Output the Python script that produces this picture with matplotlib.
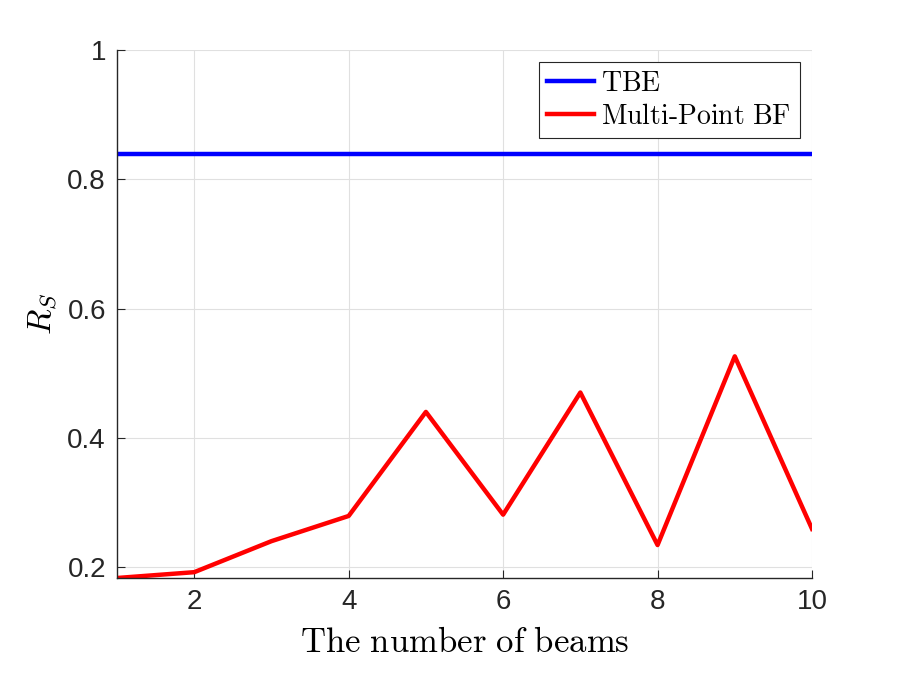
import matplotlib.pyplot as plt
from matplotlib.ticker import FuncFormatter

# data
beams = [1, 2, 3, 4, 5, 6, 7, 8, 9, 10]
tbe = [0.839] * len(beams)
multi_point_bf = [0.183, 0.192, 0.240, 0.279, 0.440, 0.281, 0.470, 0.234, 0.526, 0.259]

plt.rcParams['mathtext.fontset'] = 'cm'
plt.rcParams['font.family'] = 'Liberation Sans'

fig = plt.figure(figsize=(8.97, 6.73), dpi=100)
ax = fig.add_axes([117 / 897, 1 - 578 / 673, (812 - 117) / 897, (578 - 50) / 673])

ax.plot(beams, tbe, color=(0, 0, 1), lw=3.2, label=r'$\mathrm{TBE}$')
ax.plot(beams, multi_point_bf, color=(1, 0, 0), lw=3.2, label=r'$\mathrm{Multi\text{-}Point\ BF}$')

ax.set_xlim(1, 10)
ax.set_ylim(0.183, 1)
ax.set_xticks([2, 4, 6, 8, 10])
ax.set_yticks([0.2, 0.4, 0.6, 0.8, 1.0])
ax.yaxis.set_major_formatter(FuncFormatter(lambda v, p: f'{v:g}'))

ax.grid(True, color=(0.88, 0.88, 0.88), lw=0.8)
ax.set_axisbelow(True)
for s in ['top', 'right']:
    ax.spines[s].set_visible(False)
for s in ['left', 'bottom']:
    ax.spines[s].set_color((0.15, 0.15, 0.15))
    ax.spines[s].set_linewidth(1.0)
ax.tick_params(direction='in', length=6, labelsize=20, colors=(0.15, 0.15, 0.15), pad=8)

ax.set_xlabel(r'$\mathrm{The\ number\ of\ beams}$', fontsize=25, labelpad=8)
ax.set_ylabel(r'$R_S$', fontsize=24, labelpad=6)

leg = ax.legend(loc='upper right', fontsize=20, fancybox=False, framealpha=1,
                edgecolor=(0.15, 0.15, 0.15), borderpad=0.3, handlelength=1.7,
                handletextpad=0.25, labelspacing=0.25, borderaxespad=0.45)
leg.get_frame().set_linewidth(0.8)

fig.savefig('out.png', dpi=100)
